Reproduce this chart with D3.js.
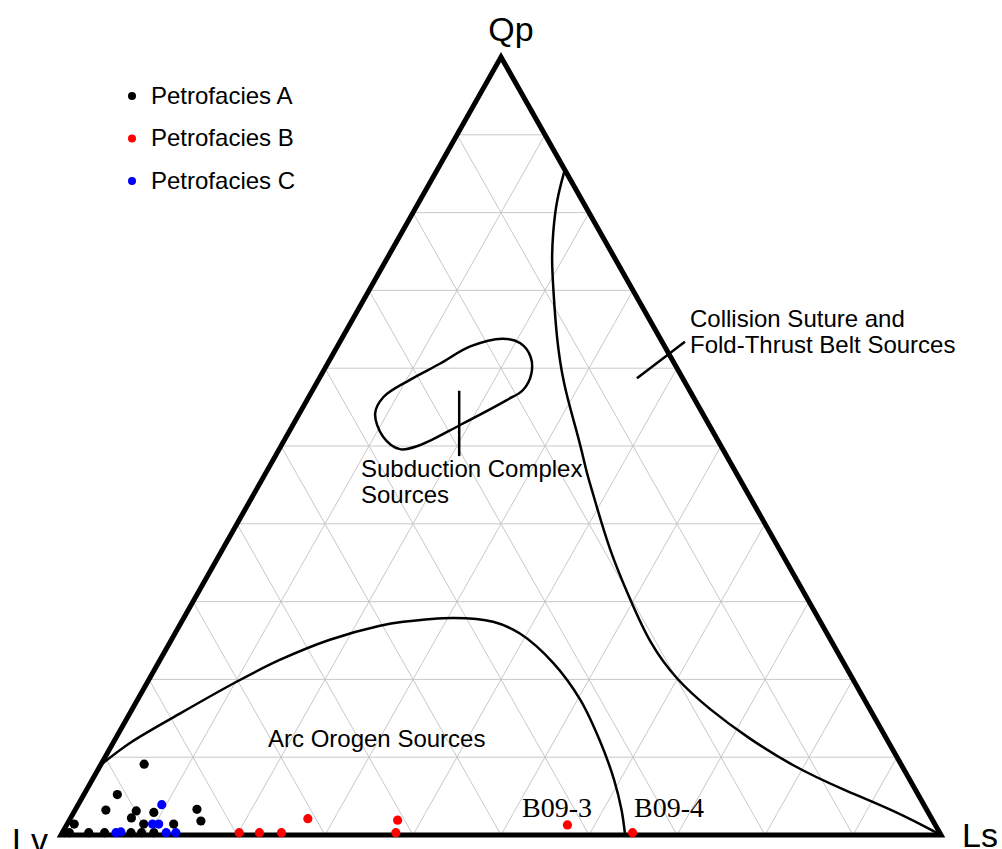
<!DOCTYPE html>
<html>
<head>
<meta charset="utf-8">
<script src="https://cdn.jsdelivr.net/npm/d3@7"></script>
<style>
  body { margin: 0; background: #fff; }
  text { font-family: "Liberation Sans", Arial, sans-serif; }
</style>
</head>
<body>
<div id="chart"></div>
<script>
// ternary points as [Qp, Ls] in percent (Lv = 100 - Qp - Ls)
const petroA = [
  [9.1, 4.9], [5.2, 3.8], [3.2, 3.5], [3.1, 7.0], [2.2, 6.9], [2.9, 9.1],
  [3.3, 13.8], [1.8, 15.0], [1.4, 0.8], [1.4, 8.7], [1.4, 12.1],
  [0.3, 0.3], [0.3, 0.8], [0.3, 3.0], [0.3, 4.8], [0.3, 7.8], [0.3, 9.0], [0.3, 10.4]
];
const petroB = [
  [0.3, 20.1], [0.3, 22.4], [0.3, 24.9], [2.1, 27.0], [1.9, 37.3],
  [0.3, 37.9], [1.3, 56.9], [0.3, 64.8]
];
const petroC = [
  [3.9, 9.5], [1.4, 9.7], [1.4, 10.4], [0.3, 6.1], [0.4, 6.6], [0.3, 11.8], [0.3, 12.9]
];

// field boundaries, [Qp, Ls]
const collisionLine = [
  [85.5, 14.5], [81.6, 15.5], [77.4, 17.2], [73.9, 18.8], [70.1, 20.9], [64.0, 24.3],
  [58.1, 28.0], [52.5, 32.2], [49.5, 34.4], [46.5, 36.5], [44.3, 38.2], [36.6, 44.0],
  [30.2, 49.6], [24.6, 54.6], [19.9, 60.0], [16.1, 65.7], [12.6, 71.6], [8.8, 78.8],
  [5.8, 86.0], [3.2, 93.0], [0, 100]
];
const arcLine = [
  [9.0, 0], [11.8, 1.9], [15.6, 5.7], [19.7, 10.1], [22.5, 13.6], [25.1, 18.0],
  [26.9, 22.8], [27.4, 25.2], [27.9, 30.7], [27.4, 35.4], [25.9, 39.2], [22.1, 44.9],
  [17.4, 50.3], [12.2, 55.1], [7.1, 59.3], [3.2, 62.1], [0, 64.1]
];
const subductionLoop = [
  [63.8, 18.3], [63.2, 20.6], [61.5, 22.6], [59.3, 23.8], [57.2, 23.9], [55.9, 22.7],
  [52.7, 19.0], [50.1, 15.7], [49.6, 13.7], [51.2, 11.0], [54.2, 8.6], [56.3, 8.5],
  [58.5, 10.4], [60.6, 12.8], [62.8, 15.1]
];
const subductionLeader = [[57.1, 16.7], [48.7, 20.9]];
const collisionLeader = [[58.7, 36.1], [63.4, 39.2]];

const gridSteps = [10, 20, 30, 40, 50, 60, 70, 80, 90];

const legendItems = ["Petrofacies A", "Petrofacies B", "Petrofacies C"];
const legendColors = ["#000000", "#ff0000", "#0000ff"];

const width = 1002;
const height = 849;

const svg = d3.select("#chart")
  .append("svg")
  .attr("width", width)
  .attr("height", height);

// corners: Lv bottom-left, Ls bottom-right, Qp top
const left = 61, right = 941, apexX = 501;
const yScale = d3.scaleLinear().domain([0, 100]).range([835, 57]);
const lsScale = d3.scaleLinear().domain([0, 100]).range([0, right - left]);
const qpShift = d3.scaleLinear().domain([0, 100]).range([0, apexX - left]);

function px(d) { return left + lsScale(d[1]) + qpShift(d[0]); }
function py(d) { return yScale(d[0]); }

const line = d3.line().x(px).y(py);
const smooth = d3.line().x(px).y(py).curve(d3.curveCatmullRom.alpha(0.5));
const basis = d3.line().x(px).y(py).curve(d3.curveBasis);
const smoothClosed = d3.line().x(px).y(py).curve(d3.curveCatmullRomClosed.alpha(0.5));

// grid
const gridG = svg.append("g")
  .attr("stroke", "#c8c8c8")
  .attr("stroke-width", 1)
  .attr("fill", "none");

gridSteps.forEach(v => {
  gridG.append("path").attr("d", line([[v, 0], [v, 100 - v]]));        // Qp
  gridG.append("path").attr("d", line([[0, v], [100 - v, v]]));        // Ls
  gridG.append("path").attr("d", line([[0, 100 - v], [100 - v, 0]])); // Lv
});

// field boundaries
const fieldG = svg.append("g")
  .attr("stroke", "#000")
  .attr("stroke-width", 2.5)
  .attr("fill", "none");

fieldG.append("path").attr("d", basis(collisionLine));
fieldG.append("path").attr("d", smooth(arcLine));
fieldG.append("path").attr("d", smoothClosed(subductionLoop));
fieldG.append("path").attr("d", line(subductionLeader));
fieldG.append("path").attr("d", line(collisionLeader));

// triangle frame
svg.append("path")
  .attr("d", line([[0, 0], [0, 100], [100, 0]]) + "Z")
  .attr("fill", "none")
  .attr("stroke", "#000")
  .attr("stroke-width", 5)
  .attr("stroke-linejoin", "miter");

// points
[[petroA, legendColors[0]], [petroC, legendColors[2]], [petroB, legendColors[1]]].forEach(([pts, col]) => {
  svg.append("g").selectAll("circle")
    .data(pts)
    .enter()
    .append("circle")
    .attr("cx", px)
    .attr("cy", py)
    .attr("r", 4.6)
    .attr("fill", col);
});

// corner labels
svg.append("text").attr("x", 511).attr("y", 41).attr("text-anchor", "middle")
  .style("font-size", "34px").text("Qp");
svg.append("text").attr("x", 962).attr("y", 847)
  .style("font-size", "34px").text("Ls");
svg.append("text").attr("x", 12).attr("y", 852)
  .style("font-size", "34px").text("Lv");

// field labels
function label(x, y, lines, size) {
  const t = svg.append("text").attr("x", x).attr("y", y).style("font-size", size + "px");
  lines.forEach((s, i) => {
    t.append("tspan").attr("x", x).attr("dy", i === 0 ? 0 : 26).text(s);
  });
}
label(690, 327, ["Collision Suture and", "Fold-Thrust Belt Sources"], 24);
label(361, 477, ["Subduction Complex", "Sources"], 24);
label(268, 747, ["Arc Orogen Sources"], 24);

svg.append("text").attr("x", 522).attr("y", 817)
  .style("font-family", "'Liberation Serif', 'Times New Roman', serif")
  .style("font-size", "28px").text("B09-3");
svg.append("text").attr("x", 634).attr("y", 817)
  .style("font-family", "'Liberation Serif', 'Times New Roman', serif")
  .style("font-size", "28px").text("B09-4");

// legend
const legend = svg.append("g");
legendItems.forEach((name, i) => {
  const row = legend.append("g")
    .attr("transform", `translate(132, ${96 + i * 42.5})`);
  row.append("circle").attr("r", 4).attr("fill", legendColors[i]);
  row.append("text")
    .attr("x", 19)
    .attr("y", 7.5)
    .style("font-size", "24px")
    .text(name);
});
</script>
</body>
</html>
